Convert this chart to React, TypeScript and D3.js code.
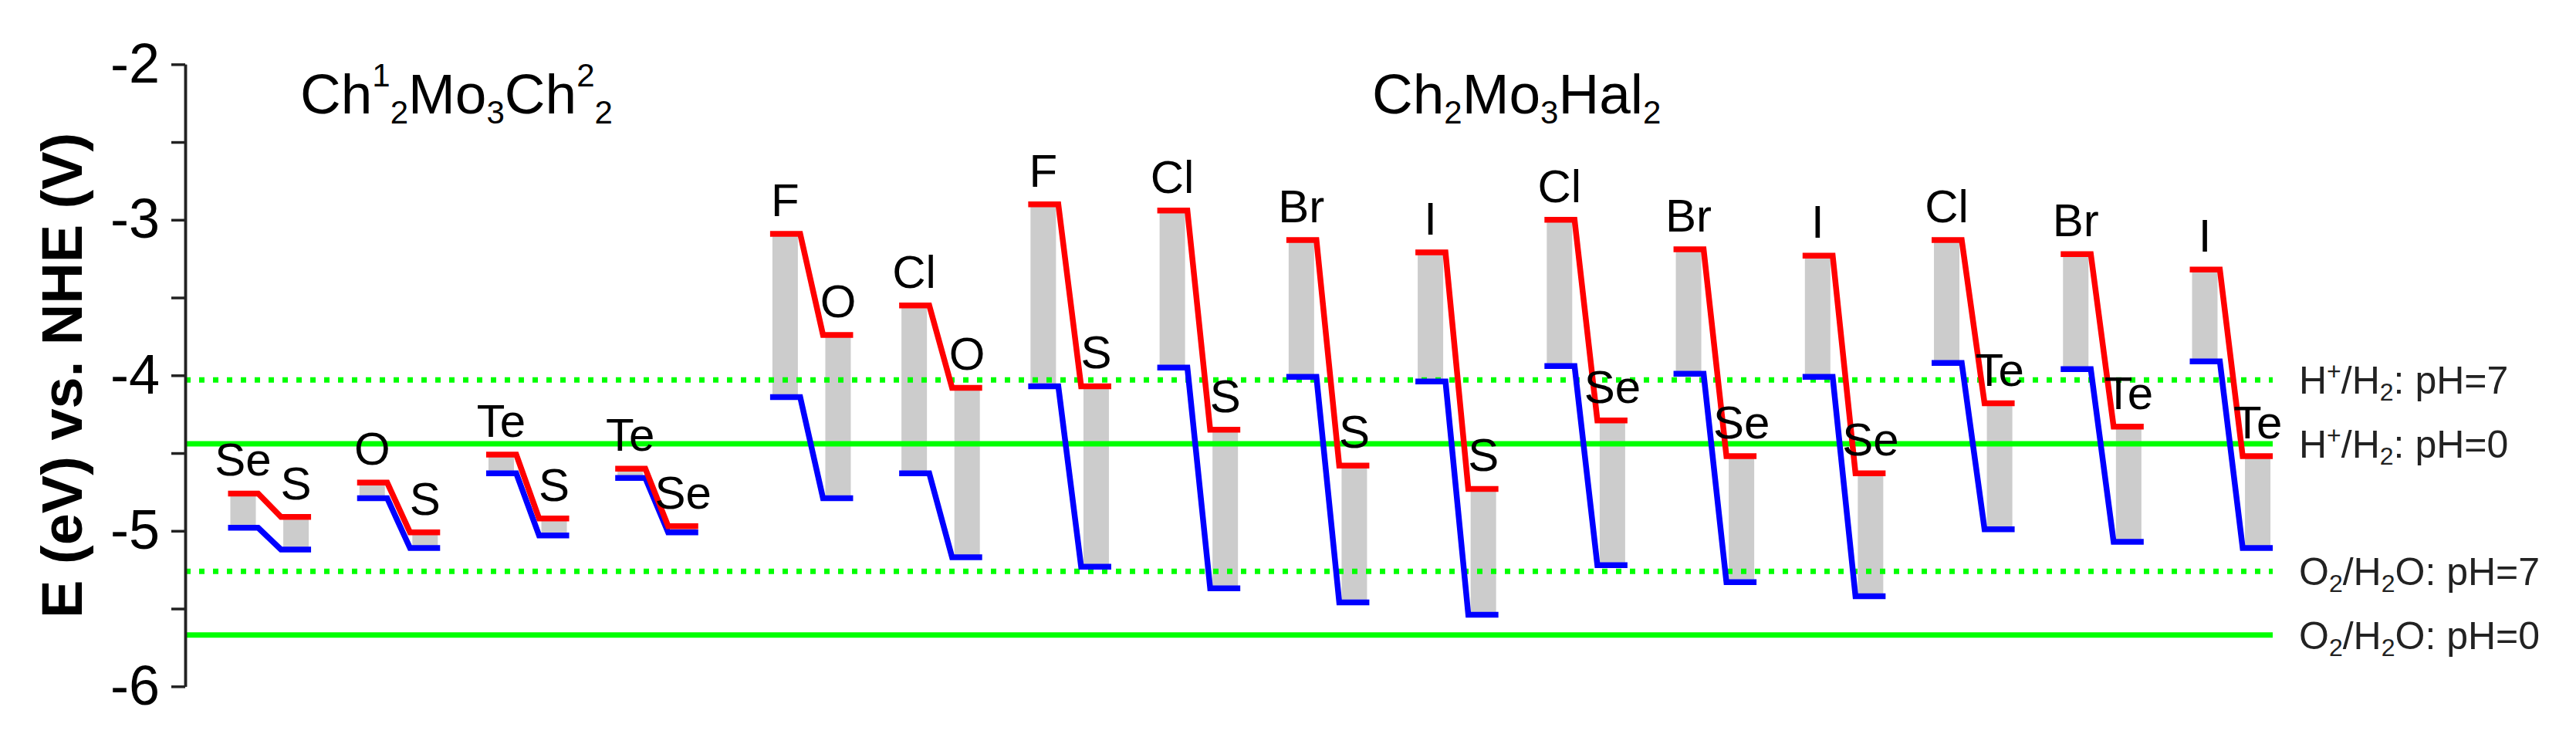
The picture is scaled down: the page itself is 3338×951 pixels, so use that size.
import React, { useEffect, useRef } from "react";
import * as d3 from "d3";

/*
band alignment of Janus Mo3 chalcogenide / chalcogenide-halide monolayers
each pair: left column (Ch1 or Hal) and right column (Ch2), red = CBM, blue = VBM,
grey = band gap, green = water redox potentials
*/

const W = 3338;
const H = 951;

// pair slots along x (second family is shifted a bit to the right)
const groupSlots = [0, 1, 2, 3, 4.2, 5.2, 6.2, 7.2, 8.2, 9.2, 10.2, 11.2, 12.2, 13.2, 14.2, 15.2];
const leftLabels = ["Se", "O", "Te", "Te", "F", "Cl", "F", "Cl", "Br", "I", "Cl", "Br", "I", "Cl", "Br", "I"];
const rightLabels = ["S", "S", "S", "Se", "O", "O", "S", "S", "S", "S", "Se", "Se", "Se", "Te", "Te", "Te"];

// band edges in eV vs NHE
const leftCBM = [-4.76, -4.69, -4.51, -4.6, -3.09, -3.55, -2.9, -2.94, -3.13, -3.21, -3.0, -3.19, -3.23, -3.13, -3.22, -3.32];
const leftVBM = [-4.98, -4.79, -4.63, -4.66, -4.14, -4.63, -4.07, -3.95, -4.01, -4.04, -3.94, -3.99, -4.01, -3.92, -3.96, -3.91];
const rightCBM = [-4.91, -5.01, -4.92, -4.97, -3.74, -4.08, -4.07, -4.35, -4.58, -4.73, -4.29, -4.52, -4.63, -4.18, -4.33, -4.52];
const rightVBM = [-5.12, -5.11, -5.03, -5.01, -4.79, -5.17, -5.23, -5.37, -5.46, -5.54, -5.22, -5.33, -5.42, -4.99, -5.07, -5.11];

// water redox levels
const refValues = [-4.03, -4.44, -5.26, -5.67];
const refDotted = [true, false, true, false];
const refLabels: [string, string][][] = [
  [["H", ""], ["+", "sup"], ["/H", ""], ["2", "sub"], [": pH=7", ""]],
  [["H", ""], ["+", "sup"], ["/H", ""], ["2", "sub"], [": pH=0", ""]],
  [["O", ""], ["2", "sub"], ["/H", ""], ["2", "sub"], ["O: pH=7", ""]],
  [["O", ""], ["2", "sub"], ["/H", ""], ["2", "sub"], ["O: pH=0", ""]],
];

const yTicks = [-2, -3, -4, -5, -6];
const yMinorTicks = [-2.5, -3.5, -4.5, -5.5];

const title1: [string, string][] = [["Ch", ""], ["1", "sup"], ["2", "sub"], ["Mo", ""], ["3", "sub"], ["Ch", ""], ["2", "sup"], ["2", "sub"]];
const title2: [string, string][] = [["Ch", ""], ["2", "sub"], ["Mo", ""], ["3", "sub"], ["Hal", ""], ["2", "sub"]];

const FONT = "'Liberation Sans', Arial, Helvetica, sans-serif";

//writes text with super/subscripts as tspans
const richText = (sel: any, parts: [string, string][], small: number, supDy: number, subDy: number) => {
  let cur = 0;
  parts.forEach(([t, kind]) => {
    const target = kind === "sup" ? supDy : kind === "sub" ? subDy : 0;
    const ts = sel.append("tspan").attr("dy", target - cur).text(t);
    if (kind) ts.attr("font-size", small);
    cur = target;
  });
};

const App = () => {
  const svgRef = useRef<SVGSVGElement>(null);

  useEffect(() => {
    const svg = d3.select(svgRef.current);
    svg.selectAll("*").remove();

    const axisX = 240;
    const refEnd = 2945;
    const hw = 19.5; //half width of a level segment
    const pairOffset = 0.41; //right column offset in slot units

    //scales
    const y = d3.scaleLinear().domain([-2, -6]).range([83.3, 889.3]);
    const x = d3.scaleLinear().domain([0, 15.2]).range([315, 2857]);

    const cols = groupSlots.flatMap((s, i) => [
      { cx: x(s), cbm: leftCBM[i], vbm: leftVBM[i], label: leftLabels[i] },
      { cx: x(s + pairOffset), cbm: rightCBM[i], vbm: rightVBM[i], label: rightLabels[i] },
    ]);

    //grey gaps
    svg
      .append("g")
      .selectAll("rect")
      .data(cols)
      .join("rect")
      .attr("x", (d) => d.cx - hw + 3)
      .attr("width", 2 * hw - 6)
      .attr("y", (d) => y(d.cbm))
      .attr("height", (d) => y(d.vbm) - y(d.cbm))
      .attr("fill", "#cccccc");

    //redox reference lines
    svg
      .append("g")
      .selectAll("line")
      .data(refValues)
      .join("line")
      .attr("x1", axisX)
      .attr("x2", refEnd)
      .attr("y1", (d) => y(d))
      .attr("y2", (d) => y(d))
      .attr("stroke", "#00ff00")
      .attr("stroke-width", 7)
      .attr("stroke-dasharray", (_, i) => (refDotted[i] ? "7 11" : null));

    //band edge step lines, blue first so red sits on top
    const line = d3.line();
    [
      [leftVBM, rightVBM, "#0000ff"],
      [leftCBM, rightCBM, "#ff0000"],
    ].forEach(([L, R, color]: any) => {
      svg
        .append("g")
        .selectAll("path")
        .data(groupSlots)
        .join("path")
        .attr("d", (s, i) => {
          const xl = x(s);
          const xr = x(s + pairOffset);
          return line([
            [xl - hw, y(L[i])],
            [xl + hw, y(L[i])],
            [xr - hw, y(R[i])],
            [xr + hw, y(R[i])],
          ]);
        })
        .attr("fill", "none")
        .attr("stroke", color)
        .attr("stroke-width", 7.5)
        .attr("stroke-linejoin", "miter");
    });

    //element labels above each CBM
    svg
      .append("g")
      .selectAll("text")
      .data(cols)
      .join("text")
      .attr("x", (d) => d.cx)
      .attr("y", (d) => y(d.cbm) - 23)
      .attr("text-anchor", "middle")
      .attr("font-family", FONT)
      .attr("font-size", 60)
      .attr("fill", "#000")
      .text((d) => d.label);

    //y-axis
    const gAxis = svg.append("g").attr("transform", `translate(${axisX},0)`);
    gAxis.call(
      d3
        .axisLeft(y)
        .tickValues(yTicks)
        .tickSize(18)
        .tickSizeOuter(0)
        .tickPadding(15)
        .tickFormat((d: any) => String(d))
    );
    gAxis.append("g").call(d3.axisLeft(y).tickValues(yMinorTicks).tickSize(18).tickSizeOuter(0).tickFormat(() => ""));
    gAxis.selectAll(".domain").attr("stroke", "#222").attr("stroke-width", 3.5);
    gAxis.selectAll(".tick line").attr("stroke", "#222").attr("stroke-width", 3.5);
    gAxis.selectAll(".tick text").attr("font-family", FONT).attr("font-size", 72).attr("fill", "#000");

    //y-axis label
    svg
      .append("text")
      .attr("transform", `translate(106, ${(y(-2) + y(-6)) / 2}) rotate(-90)`)
      .attr("text-anchor", "middle")
      .attr("font-family", FONT)
      .attr("font-weight", "bold")
      .attr("font-size", 74)
      .attr("fill", "#000")
      .text("E (eV) vs. NHE (V)");

    //family titles
    const t1 = svg.append("text").attr("x", 389).attr("y", 147).attr("font-family", FONT).attr("font-size", 73).attr("fill", "#000");
    richText(t1, title1, 42, -35, 13);
    const t2 = svg.append("text").attr("x", 1778).attr("y", 147).attr("font-family", FONT).attr("font-size", 73).attr("fill", "#000");
    richText(t2, title2, 42, -35, 13);

    //redox labels on the right
    refValues.forEach((v, i) => {
      const t = svg
        .append("text")
        .attr("x", 2979)
        .attr("y", y(v) + 18)
        .attr("font-family", FONT)
        .attr("font-size", 50)
        .attr("fill", "#222");
      richText(t, refLabels[i], 32, -18, 9);
    });
  }, []);

  return (
    <svg
      ref={svgRef}
      width={W}
      height={H}
      style={{ position: "absolute", left: 0, top: 0, background: "#fff" }}
    />
  );
};

export default App;
